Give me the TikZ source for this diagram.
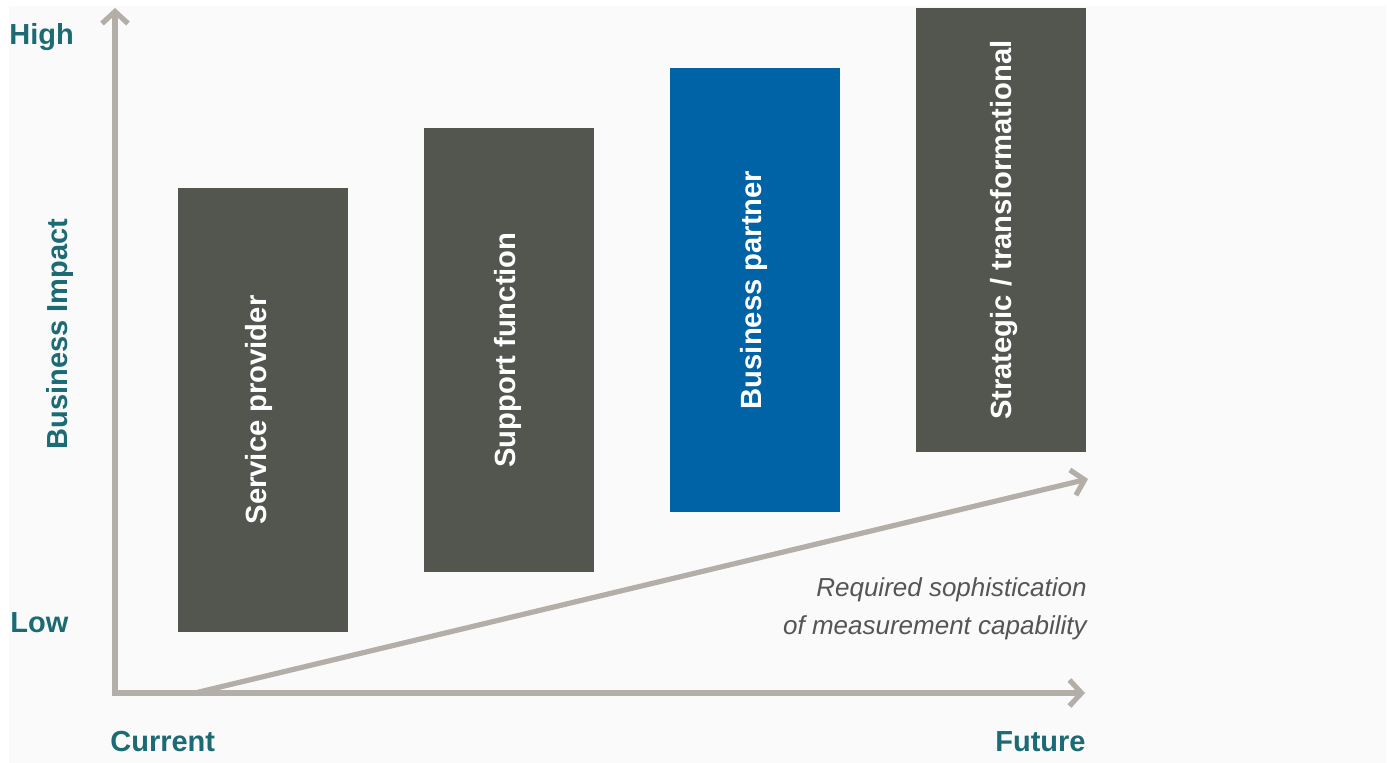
\documentclass[tikz,border=0pt]{standalone}
\usepackage{fontspec}
\setmainfont{Liberation Sans}
\usetikzlibrary{arrows.meta}
\definecolor{teal}{HTML}{1C6B74}
\definecolor{boxgray}{HTML}{53554F}
\definecolor{boxblue}{HTML}{0063A6}
\definecolor{axisgray}{HTML}{B3AEA7}
\definecolor{bg}{HTML}{FAFAFA}
\definecolor{subgray}{HTML}{555555}
\tikzset{
  stage/.style={rotate=90, minimum width=222pt, minimum height=85pt, inner sep=0pt,
    text height=10.5pt, text depth=3.1pt,
    text=white, font=\fontsize{14.6pt}{16pt}\selectfont\bfseries},
  axislabel/.style={text=teal, inner sep=0pt, font=\fontsize{14.5pt}{16pt}\selectfont\bfseries},
  sublabel/.style={text=subgray, inner sep=0pt, font=\fontsize{13pt}{15pt}\selectfont\itshape},
  axisline/.style={draw=axisgray, line width=2.6pt, -{Straight Barb[length=6pt,width=13pt]}}
}
\begin{document}
\begin{tikzpicture}[x=0.5pt,y=-0.5pt]
\useasboundingbox (0,0) rectangle (1387,763);
\fill[white] (0,0) rectangle (1387,763);
\fill[bg] (9,6) rectangle (1386,763);

\node[stage, fill=boxgray] (s1) at (262.5,410) {\raisebox{1.75pt}{Service provider}};
\node[stage, fill=boxgray] (s2) at (508.5,350) {\raisebox{0.3pt}{Support function}};
\node[stage, fill=boxblue] (s3) at (754.5,290) {Business partner};
\node[stage, fill=boxgray] (s4) at (1001,230) {\raisebox{-1.5pt}{Strategic / transformational}};

\coordinate (o) at (115,693);
\coordinate (ytip) at (115,8);
\coordinate (xtip) at (1085,693);
\coordinate (dstart) at (195,693);
\coordinate (dtip) at (1088,479);
\draw[axisline] (o) -- (ytip);
\draw[axisline] ([xshift=-1.3pt]o) -- (xtip);
\draw[axisline] (dstart) -- (dtip);

\node[axislabel, anchor=base west] (high) at (9,45) {High};
\node[axislabel, anchor=base west] (low) at (10,633) {Low};
\node[axislabel, rotate=90] (bi) at (60,334) {Business Impact};
\node[axislabel, anchor=base west] (cur) at (110,752) {Current};
\node[axislabel, anchor=base east] (fut) at (1086,752) {Future};
\node[sublabel, anchor=base east] (sub1) at (1087,597) {Required sophistication};
\node[sublabel, anchor=base east] (sub2) at (1087,635) {of measurement capability};
\end{tikzpicture}
\end{document}
